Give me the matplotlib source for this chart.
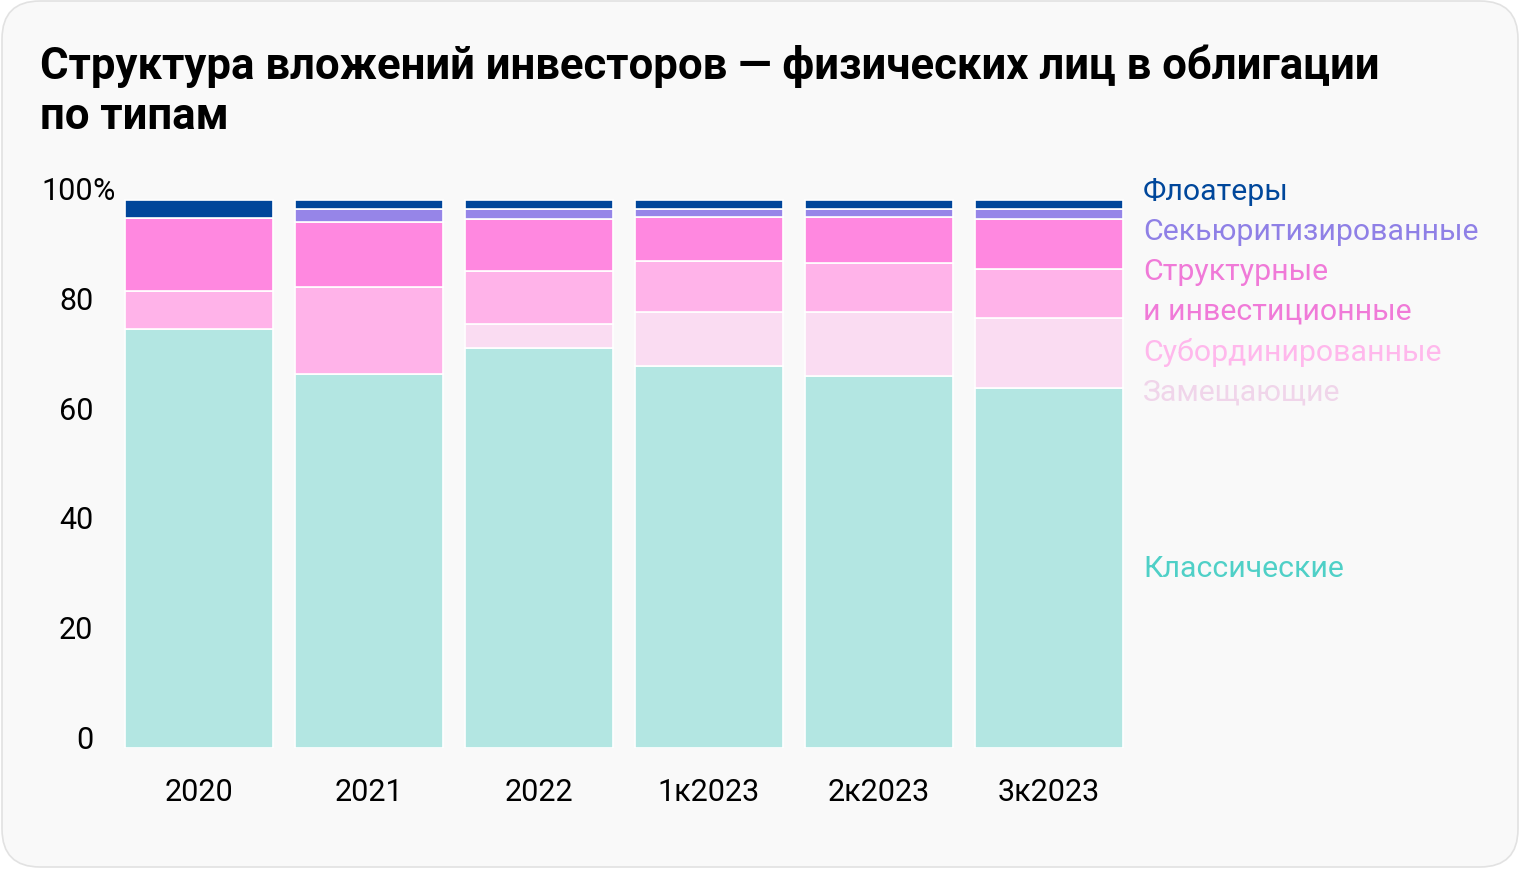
import numpy as np
import matplotlib.pyplot as plt
from matplotlib.patches import FancyBboxPatch

plt.rcParams['font.family'] = ['Roboto', 'DejaVu Sans']

# данные, % (снизу вверх)
periods = ['2020', '2021', '2022', '1к2023', '2к2023', '3к2023']
klassich = [76.4, 68.1, 72.8, 69.6, 67.8, 65.6]
zamesh = [0.0, 0.0, 4.4, 9.8, 11.6, 12.7]
subord = [6.8, 15.9, 9.7, 9.3, 9.0, 9.0]
struktur = [13.4, 11.9, 9.4, 8.0, 8.3, 9.0]
sekur = [0.0, 2.2, 1.8, 1.4, 1.4, 1.8]
floater = [3.2, 1.8, 1.8, 1.8, 1.8, 1.8]

series = [klassich, zamesh, subord, struktur, sekur, floater]
bar_colors = ['#b3e6e2', '#fadcf2', '#ffb3e9', '#ff88e0', '#9685e8', '#00469a']
label_colors = ['#4fd0c7', '#f0d5ea', '#ffb8ec', '#f07ad8', '#8f80e6', '#00479b']
names = ['Классические', 'Замещающие', 'Субординированные',
         'Структурные\nи инвестиционные', 'Секьюритизированные', 'Флоатеры']

W, H = 1520, 870
fig = plt.figure(figsize=(W / 100, H / 100), dpi=100, facecolor='white')

bg = FancyBboxPatch((2 / W, 2 / H), (W - 4) / W, (H - 4) / H,
                    boxstyle='round,pad=0,rounding_size=0.025',
                    transform=fig.transFigure, facecolor='#f9f9f9',
                    edgecolor='#e2e2e2', linewidth=1.2, mutation_aspect=W / H,
                    zorder=-10)
fig.patches.append(bg)

fig.text(40 / W, 1 - 91 / H, 'Структура вложений инвесторов — физических лиц в облигации\nпо типам',
         fontsize=31.5, fontweight='bold', color='black', va='center', ha='left',
         linespacing=1.25)

ax = fig.add_axes([114 / W, (H - 749) / H, 1020 / W, 549 / H])
ax.set_facecolor('none')
x = np.arange(len(periods))
bottom = np.zeros(len(periods))
for vals, col in zip(series, bar_colors):
    ax.bar(x, vals, width=0.87, bottom=bottom, color=col, edgecolor='white', linewidth=1.2)
    bottom += np.array(vals)

ax.set_xlim(-0.5, len(periods) - 0.5)
ax.set_ylim(0, 100)
for s in ax.spines.values():
    s.set_visible(False)
ax.tick_params(length=0)
ax.set_xticks(x)
ax.set_xticklabels(periods, fontsize=22)
ax.tick_params(axis='x', pad=21)
ax.set_yticks([0, 20, 40, 60, 80, 100])
ax.set_yticklabels(['0', '20', '40', '60', '80', '100'], fontsize=22)
ax.tick_params(axis='y', pad=15)
for t in ax.get_yticklabels():
    t.set_va('baseline')
ax.text(-0.5 - 21.5 / 170, 100, '%', fontsize=22, ha='left', va='baseline')

# подписи справа у последнего столбца
lx = len(periods) - 0.5 + 9 / 170
ax.text(lx, klassich[-1] / 2, names[0], color=label_colors[0], fontsize=21.8,
        ha='left', va='center')
ytop = 101.5
step = 7.3
rows = [(names[5], label_colors[5]), (names[4], label_colors[4]),
        ('Структурные', label_colors[3]), ('и инвестиционные', label_colors[3]),
        (names[2], label_colors[2]), (names[1], label_colors[1])]
for i, (txt, col) in enumerate(rows):
    ax.text(lx, ytop - i * step, txt, color=col, fontsize=21.8, ha='left', va='center',
            clip_on=False)

fig.savefig('out.png', dpi=100, facecolor=fig.get_facecolor())
